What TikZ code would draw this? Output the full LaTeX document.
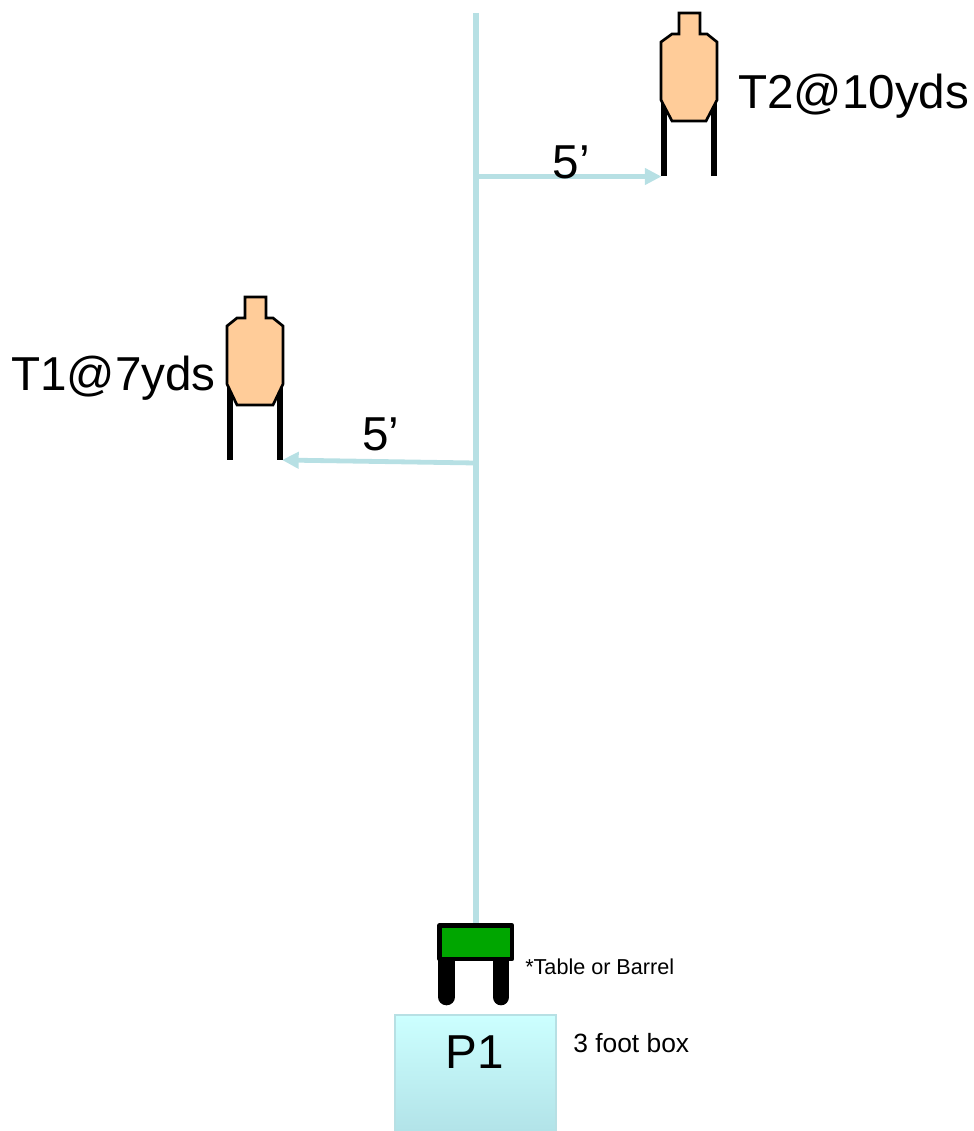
\documentclass[tikz,border=0pt]{standalone}
\usepackage{fontspec}
\setmainfont{Liberation Sans}
\usetikzlibrary{arrows.meta}
\definecolor{guide}{HTML}{B7E0E4}
\definecolor{targetfill}{HTML}{FFCC99}
\definecolor{tablegreen}{HTML}{00A600}
\definecolor{boxtop}{HTML}{CCFFFF}
\definecolor{boxbottom}{HTML}{B2E3E8}
\tikzset{
  x=0.75pt,y=-0.75pt,
  guideline/.style={draw=guide,line width=4pt},
  guidearrow/.style={draw=guide,line width=3.6pt,-{Triangle[length=12.5pt,width=12pt]}},
  targetleg/.style={draw=black,line width=4.4pt},
  targetbody/.style={draw=black,line width=2pt,fill=targetfill,line join=miter},
  tableleg/.style={draw=black,line width=12.5pt,line cap=round},
  tabletop/.style={draw=black,line width=3.4pt,fill=tablegreen,line join=round},
  bigtext/.style={inner sep=0pt,font=\fontsize{35.7pt}{36pt}\selectfont},
  smalltext/.style={inner sep=0pt,font=\fontsize{16.2pt}{18pt}\selectfont},
  boxtext/.style={inner sep=0pt,font=\fontsize{19.8pt}{22pt}\selectfont},
}
\begin{document}
\begin{tikzpicture}
\useasboundingbox (0,0) rectangle (974,1131);
% guide lines
\coordinate (guidetop) at (476,13);
\coordinate (guidebottom) at (476,925);
\coordinate (t2from) at (476,176.5);
\coordinate (t2foot) at (661.5,176.5);
\coordinate (t1from) at (476,463);
\coordinate (t1foot) at (282,460);
\draw[guideline] (guidetop) -- (guidebottom);
\draw[guidearrow] (t2from) -- (t2foot);
\draw[guidearrow] (t1from) -- (t1foot);
% target 2
\draw[targetleg] (664,100) -- (664,176);
\draw[targetleg] (714,100) -- (714,176);
\draw[targetbody] (679,13) -- (700,13) -- (700,34) -- (707,34) -- (717,42) -- (717,100) -- (706,121) -- (672,121) -- (661,100) -- (661,42) -- (672,34) -- (679,34) -- cycle;
% target 1
\draw[targetleg] (230,384) -- (230,460);
\draw[targetleg] (280,384) -- (280,460);
\draw[targetbody] (245,297) -- (266,297) -- (266,318) -- (273,318) -- (283,326) -- (283,384) -- (273,405) -- (237,405) -- (227,384) -- (227,326) -- (237,318) -- (245,318) -- cycle;
% table
\draw[tableleg] (446.5,955) -- (446.5,997);
\draw[tableleg] (501,955) -- (501,997);
\draw[tabletop] (439.5,925.5) rectangle (512,959);
% box
\path[top color=boxtop,bottom color=boxbottom] (395,1015) rectangle (556,1131);
\draw[draw=guide,line width=1.5pt] (395,1131) -- (395,1015) -- (556,1015) -- (556,1131);
% labels
\node[bigtext,anchor=base west] (t2label) at (738,108.3) {T2@10yds};
\node[bigtext,anchor=base west] (t1label) at (11,390.3) {T1@7yds};
\node[bigtext,anchor=base west] (t2dist) at (552.5,178.5) {5’};
\node[bigtext,anchor=base west] (t1dist) at (362,450.7) {5’};
\node[bigtext,anchor=base west] (p1label) at (445,1068) {P1};
\node[smalltext,anchor=base west] (tablelabel) at (525,974) {*Table or Barrel};
\node[boxtext,anchor=base west] (boxlabel) at (573,1052) {3 foot box};
\end{tikzpicture}
\end{document}
